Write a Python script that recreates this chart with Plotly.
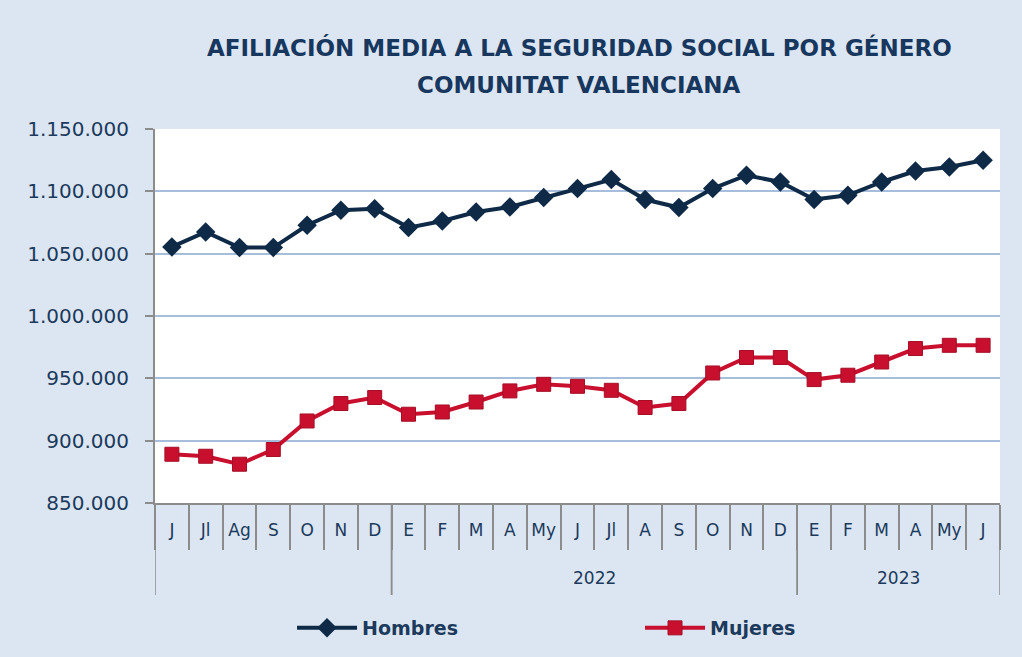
import plotly.graph_objects as go

periods = ["2021-06", "2021-07", "2021-08", "2021-09", "2021-10", "2021-11", "2021-12",
           "2022-01", "2022-02", "2022-03", "2022-04", "2022-05", "2022-06", "2022-07",
           "2022-08", "2022-09", "2022-10", "2022-11", "2022-12",
           "2023-01", "2023-02", "2023-03", "2023-04", "2023-05", "2023-06"]
months = ["J", "Jl", "Ag", "S", "O", "N", "D",
          "E", "F", "M", "A", "My", "J", "Jl", "A", "S", "O", "N", "D",
          "E", "F", "M", "A", "My", "J"]
year_labels = ["", "2022", "2023"]

hombres = [1055400, 1067400, 1054900, 1054900, 1072800, 1084800, 1086100,
           1070900, 1076200, 1083400, 1087500, 1095000, 1102200, 1109400,
           1093400, 1087000, 1102200, 1112900, 1107500, 1093400, 1096800,
           1107500, 1116300, 1119500, 1124900]
mujeres = [889100, 887500, 881100, 892900, 915800, 929800, 934600,
           921200, 923000, 931000, 939900, 945200, 943600, 940400,
           926600, 929800, 954300, 966700, 966700, 949000, 952500,
           963100, 973900, 976500, 976500]

y_ticks = [850000, 900000, 950000, 1000000, 1050000, 1100000, 1150000]

NAVY = "#0E2A47"
RED = "#C8102E"
TXT = "#1B3A5C"
BG = "#DCE6F2"
AXIS = "#8C8C8C"
FONT = "DejaVu Sans"

fig = go.Figure()
fig.add_trace(go.Scatter(
    x=periods, y=hombres, name="Hombres", mode="lines+markers",
    line=dict(color=NAVY, width=4),
    marker=dict(symbol="diamond", size=15, color=NAVY),
))
fig.add_trace(go.Scatter(
    x=periods, y=mujeres, name="Mujeres", mode="lines+markers",
    line=dict(color=RED, width=4),
    marker=dict(symbol="square", size=14, color=RED,
                line=dict(color="#A50E25", width=1)),
))

# year groups derived from the period keys
groups = []
for i, p in enumerate(periods):
    yr = p[:4]
    if not groups or groups[-1][0] != yr:
        groups.append([yr, i, i])
    else:
        groups[-1][2] = i

annotations = [
    dict(text="<b>AFILIACIÓN MEDIA A LA SEGURIDAD SOCIAL POR GÉNERO</b>",
         xref="paper", yref="paper", x=(579 - 155) / 845, y=1 + (129 - 47) / 374,
         xanchor="center", yanchor="middle", showarrow=False,
         font=dict(family=FONT, size=23, color="#17375E")),
    dict(text="<b>COMUNITAT VALENCIANA</b>",
         xref="paper", yref="paper", x=(579 - 155) / 845, y=1 + (129 - 85) / 374,
         xanchor="center", yanchor="middle", showarrow=False,
         font=dict(family=FONT, size=23, color="#17375E")),
]
shapes = []
div_bottom = -(595 - 503) / 374
for (yr, i0, i1), label in zip(groups, year_labels):
    annotations.append(dict(
        text=label, xref="x", yref="paper", x=(i0 + i1) / 2, y=-(578 - 503) / 374,
        xanchor="center", yanchor="middle", showarrow=False,
        font=dict(family=FONT, size=17, color=TXT)))
    for xb in (i0 - 0.5, i1 + 0.5):
        shapes.append(dict(type="line", xref="x", yref="paper",
                           x0=xb, x1=xb, y0=0, y1=div_bottom,
                           line=dict(color=AXIS, width=1.5)))

fig.update_layout(
    width=1022, height=657,
    paper_bgcolor=BG, plot_bgcolor="white",
    separators=",.",
    margin=dict(l=155, r=22, t=129, b=154, autoexpand=False),
    font=dict(family=FONT, color=TXT, size=16),
    annotations=annotations, shapes=shapes,
    showlegend=True,
    legend=dict(
        orientation="h", x=0.574, xanchor="center", y=-(609 - 503) / 374, yanchor="top",
        font=dict(family=FONT, size=19, color=TXT, weight="bold"),
        entrywidth=273, itemwidth=60, bgcolor="rgba(0,0,0,0)",
    ),
)
fig.update_yaxes(
    range=[850000, 1150000], tickvals=y_ticks, tickformat=",.0f",
    showgrid=True, gridcolor="#A6BEDC", gridwidth=1.5,
    showline=True, linecolor=AXIS, linewidth=2,
    ticks="outside", ticklen=8, tickcolor=AXIS, tickwidth=2,
    tickfont=dict(family=FONT, size=20, color=TXT),
    ticklabelstandoff=12, automargin=False,
    zeroline=False,
)
fig.update_xaxes(
    type="category", categoryorder="array", categoryarray=periods,
    tickvals=periods, ticktext=months, tickangle=0,
    range=[-0.5, len(periods) - 0.5],
    showline=True, linecolor=AXIS, linewidth=2,
    ticks="outside", tickson="boundaries", ticklen=45, tickcolor=AXIS, tickwidth=1.5,
    ticklabelstandoff=11, automargin=False,
    tickfont=dict(family=FONT, size=17, color=TXT),
    showgrid=False,
)

fig.write_html("out.html")
